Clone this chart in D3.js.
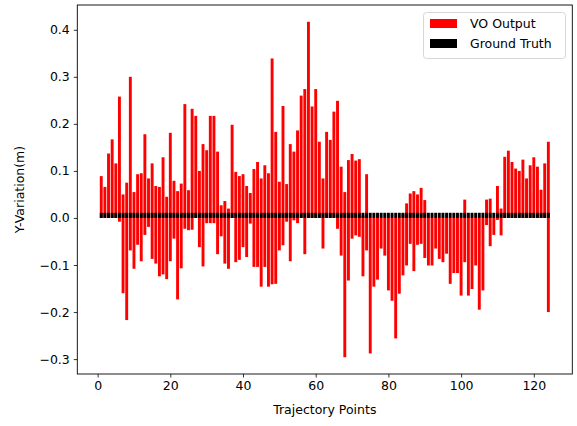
<!DOCTYPE html>
<html>
<head>
<meta charset="utf-8">
<script src="https://cdn.jsdelivr.net/npm/d3@7"></script>
<style>
  html, body { margin: 0; padding: 0; background: #fff; }
  svg { display: block; }
  text { font-family: "DejaVu Sans", sans-serif; fill: #000; }
</style>
</head>
<body>
<div id="chart"></div>
<script>
// ---- data ----
const points = d3.range(1, 125); // trajectory point indices 1..124
const voPositive = [
  0.089, 0.066, 0.137, 0.167, 0.116, 0.258, 0.050, 0.075, 0.300, 0.055,
  0.093, 0.095, 0.178, 0.084, 0.116, 0.068, 0.066, 0.129, 0.045, 0.181,
  0.079, 0.057, 0.073, 0.242, 0.059, 0.232, 0.217, 0.100, 0.157, 0.144,
  0.217, 0.217, 0.141, 0.027, 0.036, 0.020, 0.198, 0.098, 0.089, 0.093,
  0.068, 0.053, 0.104, 0.119, 0.084, 0.112, 0.095, 0.339, 0.183, 0.077,
  0.238, 0.072, 0.157, 0.141, 0.186, 0.260, 0.274, 0.417, 0.237, 0.274,
  0.162, 0.084, 0.183, 0.166, 0.226, 0.249, 0.109, 0.055, 0.123, 0.136,
  0.122, 0.125, 0.005, 0.093, 0.000, 0.000, 0.000, 0.000, 0.000, 0.000,
  0.000, 0.000, 0.000, 0.009, 0.031, 0.052, 0.057, 0.050, 0.064, 0.038,
  0.000, 0.000, 0.000, 0.000, 0.000, 0.000, 0.000, 0.000, 0.000, 0.000,
  0.039, 0.000, 0.000, 0.000, 0.000, 0.000, 0.039, 0.041, 0.000, 0.068,
  0.020, 0.130, 0.143, 0.119, 0.105, 0.100, 0.124, 0.084, 0.112, 0.129,
  0.109, 0.060, 0.116, 0.162
];
const voNegative = [
  0.000, 0.000, 0.000, 0.000, 0.000, -0.008, -0.160, -0.217, -0.069, -0.108,
  -0.057, -0.092, -0.036, -0.019, -0.087, -0.097, -0.124, -0.120, -0.130, -0.092,
  -0.044, -0.173, -0.107, -0.023, -0.026, -0.025, 0.000, -0.062, -0.103, -0.011,
  -0.011, -0.011, -0.077, -0.039, -0.097, -0.108, 0.000, -0.094, -0.089, -0.062,
  -0.083, -0.012, -0.104, -0.104, -0.146, -0.104, -0.146, -0.141, -0.140, -0.069,
  -0.058, -0.008, -0.092, -0.005, -0.011, 0.000, -0.077, 0.000, 0.000, 0.000,
  0.000, -0.065, 0.000, 0.000, 0.000, -0.023, -0.080, -0.296, -0.133, -0.044,
  -0.037, -0.040, -0.124, -0.069, -0.288, -0.146, -0.131, -0.065, -0.080, -0.154,
  -0.176, -0.256, -0.161, -0.122, -0.101, -0.055, -0.113, -0.057, -0.055, -0.085,
  -0.101, -0.101, -0.065, -0.087, -0.094, -0.076, -0.140, -0.117, -0.117, -0.165,
  -0.094, -0.165, -0.151, -0.101, -0.195, -0.154, -0.015, -0.060, -0.036, -0.004,
  -0.037, 0.000, 0.000, 0.000, 0.000, 0.000, 0.000, 0.000, 0.000, 0.000,
  0.000, 0.000, 0.000, -0.200
];
const groundTruth = points.map(() => 0.011);
const xTicks = [0, 20, 40, 60, 80, 100, 120];
const yTicks = [-0.3, -0.2, -0.1, 0.0, 0.1, 0.2, 0.3, 0.4];
const seriesNames = ["VO Output", "Ground Truth"];
const seriesColors = ["#ff0000", "#000000"];

// ---- layout ----
const W = 577, H = 426;
const plotL = 77.3, plotR = 572.3, plotT = 5, plotB = 374;
const barW = 0.8;

const svg = d3.select("#chart").append("svg").attr("width", W).attr("height", H);

const xMin = d3.min(points) - barW / 2, xMax = d3.max(points) + barW / 2;
const xPad = (xMax - xMin) * 0.05;
const x = d3.scaleLinear().domain([xMin - xPad, xMax + xPad]).range([plotL, plotR]);

const yMin = d3.min(voNegative), yMax = d3.max(voPositive);
const yPad = (yMax - yMin) * 0.05;
const y = d3.scaleLinear().domain([yMin - yPad, yMax + yPad]).range([plotB, plotT]);

const bw = x(barW) - x(0);

// red bars (positive and negative parts)
const gRed = svg.append("g").attr("fill", seriesColors[0]);
gRed.selectAll("rect.pos").data(points).join("rect")
  .attr("class", "pos")
  .attr("x", (d) => x(d - barW / 2))
  .attr("width", bw)
  .attr("y", (d, i) => y(Math.max(0, voPositive[i])))
  .attr("height", (d, i) => Math.abs(y(0) - y(voPositive[i])));
gRed.selectAll("rect.neg").data(points).join("rect")
  .attr("class", "neg")
  .attr("x", (d) => x(d - barW / 2))
  .attr("width", bw)
  .attr("y", y(0))
  .attr("height", (d, i) => Math.abs(y(voNegative[i]) - y(0)));

// ground truth bars
svg.append("g").attr("fill", seriesColors[1])
  .selectAll("rect").data(points).join("rect")
  .attr("x", (d) => x(d - barW / 2))
  .attr("width", bw)
  .attr("y", (d, i) => y(groundTruth[i]))
  .attr("height", (d, i) => y(0) - y(groundTruth[i]));

// axes
const fmtY = (v) => d3.format(".1f")(v).replace("-", "\u2212");
const xAxis = d3.axisBottom(x).tickValues(xTicks).tickFormat(d3.format("d")).tickSizeOuter(0).tickSize(3.5).tickPadding(4);
const yAxis = d3.axisLeft(y).tickValues(yTicks).tickFormat(fmtY).tickSizeOuter(0).tickSize(3.5).tickPadding(4);

const gx = svg.append("g").attr("transform", `translate(0,${plotB})`).call(xAxis);
const gy = svg.append("g").attr("transform", `translate(${plotL},0)`).call(yAxis);
[gx, gy].forEach((g) => {
  g.select(".domain").remove();
  g.selectAll(".tick line").attr("stroke", "#000").attr("stroke-width", 0.8);
  g.selectAll(".tick text").attr("font-size", 12.5).attr("font-family", "DejaVu Sans").attr("fill", "#000");
});

// frame
svg.append("rect")
  .attr("x", plotL).attr("y", plotT)
  .attr("width", plotR - plotL).attr("height", plotB - plotT)
  .attr("fill", "none").attr("stroke", "#000").attr("stroke-width", 0.9);

// axis labels
svg.append("text")
  .attr("x", (plotL + plotR) / 2).attr("y", 414)
  .attr("text-anchor", "middle").attr("font-size", 12.5)
  .text("Trajectory Points");
svg.append("text")
  .attr("transform", `translate(24,${(plotT + plotB) / 2}) rotate(-90)`)
  .attr("text-anchor", "middle").attr("font-size", 12.5)
  .text("Y-Variation(m)");

// legend
const lg = svg.append("g");
lg.append("rect")
  .attr("x", 423.5).attr("y", 12.5).attr("width", 142).attr("height", 46)
  .attr("rx", 3).attr("fill", "#fff").attr("fill-opacity", 0.8)
  .attr("stroke", "#ccc").attr("stroke-width", 0.8);
seriesNames.forEach((name, i) => {
  const yy = 19 + i * 20;
  lg.append("rect").attr("x", 430).attr("y", yy).attr("width", 27).attr("height", 9)
    .attr("fill", seriesColors[i]);
  lg.append("text").attr("x", 470).attr("y", yy + 9).attr("font-size", 12.5).text(name);
});
</script>
</body>
</html>
